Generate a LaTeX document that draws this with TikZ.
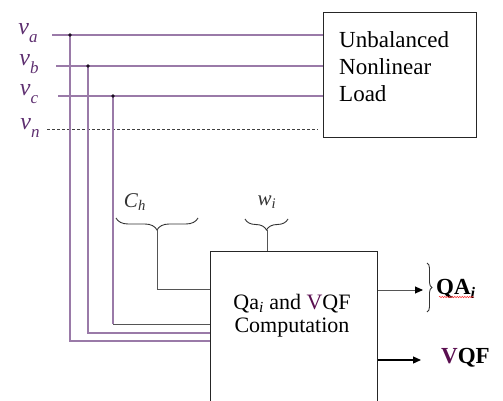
\documentclass[tikz,border=0pt]{standalone}
\usepackage{fontspec}
\setmainfont{Liberation Serif}
\usetikzlibrary{decorations.pathreplacing,decorations.pathmorphing,arrows.meta,calc}
\definecolor{phline}{HTML}{9A7AA8}
\definecolor{phtext}{HTML}{5E2F70}
\definecolor{vdark}{HTML}{5A0F50}
\definecolor{wiregray}{HTML}{555555}
\newcommand{\phv}[1]{\textit{v}\raisebox{-0.3em}{\fontsize{17}{18}\selectfont\textit{#1}}}

\begin{document}
\begin{tikzpicture}[x=1pt,y=-1pt,
  phase/.style={phline, line width=1.1pt},
  wire/.style={wiregray, line width=0.9pt},
  blk/.style={draw=black!85, line width=1.4pt, inner sep=0pt},
  lbl/.style={phtext, inner sep=0pt, font=\fontsize{24}{26}\selectfont},
  brc/.style={black!80, line width=0.9pt, decorate, decoration={brace, amplitude=#1}},
  tip/.style={-{Triangle[length=8pt,width=7pt,color=black]}}]
 \useasboundingbox (0,0) rectangle (503,401);
 % blocks
 \node[blk, minimum width=153pt, minimum height=125pt, anchor=north west] (load) at (323,12) {};
 \node[anchor=north west, align=left, inner sep=0pt, font=\fontsize{23}{27}\selectfont] (loadtxt) at (339,31) {Unbalanced\\Nonlinear\\Load};
 \node[blk, minimum width=167pt, minimum height=175pt, anchor=north west] (comp) at (210,251) {};
 \node[align=center, inner sep=0pt, font=\fontsize{22}{23}\selectfont] (comptxt) at (292,316) {Qa\textsubscript{\textit{i}} and \textcolor{vdark}{V}QF\\Computation};
 % phases
 \node[lbl] (va) at (28,33) {\phv{a}};
 \node[lbl] (vb) at (29,64) {\phv{b}};
 \node[lbl] (vc) at (29,94) {\phv{c}};
 \node[lbl] (vn) at (30,128) {\phv{n}};
 \coordinate (sa) at (52,35);
 \coordinate (sb) at (56,66);
 \coordinate (sc) at (58,96);
 \coordinate (sn) at (47,129);
 \coordinate (en) at (318,129);
 \coordinate (ja) at (70,35);
 \coordinate (jb) at (88,66);
 \coordinate (jc) at (113,96);
 \draw[phase] (sa) -- (sa -| load.west);
 \draw[phase] (sb) -- (sb -| load.west);
 \draw[phase] (sc) -- (sc -| load.west);
 \draw[black!75, line width=0.9pt, dash pattern=on 3pt off 2pt] (sn) -- (en);
 \draw[phase] (ja) |- (comp.west |- 0,341);
 \draw[phase] (jb) |- (comp.west |- 0,333);
 \draw[phase] (jc) -- (113,324);
 \draw[wire] (113,324) -- (comp.west |- 0,324);
 \foreach \j in {ja,jb,jc}
  \fill[black!70!phtext] (\j) circle (1.9);
 % inputs C_h and w_i
 \draw[brc=12pt] (198,218) -- (116,218);
 \coordinate (chtip) at (157,230);
 \draw[wire] (chtip) |- (comp.west |- 0,289);
 \node[inner sep=0pt, black!80, font=\fontsize{21}{22}\selectfont] (ch) at (135,202) {\textit{C}\textsubscript{\textit{h}}};
 \draw[brc=11pt] (288,219) -- (245,219);
 \coordinate (wtip) at (267,230);
 \draw[wire] (wtip) -- (wtip |- comp.north);
 \node[inner sep=0pt, black!80, font=\fontsize{21}{22}\selectfont] (wi) at (267,202) {\textit{w}\textsubscript{\textit{i}}};
 % outputs
 \coordinate (qa) at (423,290);
 \draw[wire, tip] (comp.east |- qa) -- (qa);
 \draw[brc=5pt] (427,263) -- (427,312);
 \node[anchor=west, inner sep=0pt, font=\fontsize{23}{24}\selectfont] (qatxt) at (436,289) {\textbf{QA\textsubscript{\textit{i}}}};
 \draw[red!80, line width=0.5pt, decorate, decoration={snake, amplitude=0.7pt, segment length=2.5pt}] (439,297) -- (474,297);
 \coordinate (vq) at (421,360);
 \draw[black, line width=1.2pt, tip] (comp.east |- vq) -- (vq);
 \node[anchor=west, inner sep=0pt, font=\fontsize{23}{24}\selectfont] (vqftxt) at (441,358) {\textbf{\textcolor{vdark}{V}QF}};
\end{tikzpicture}
\end{document}
